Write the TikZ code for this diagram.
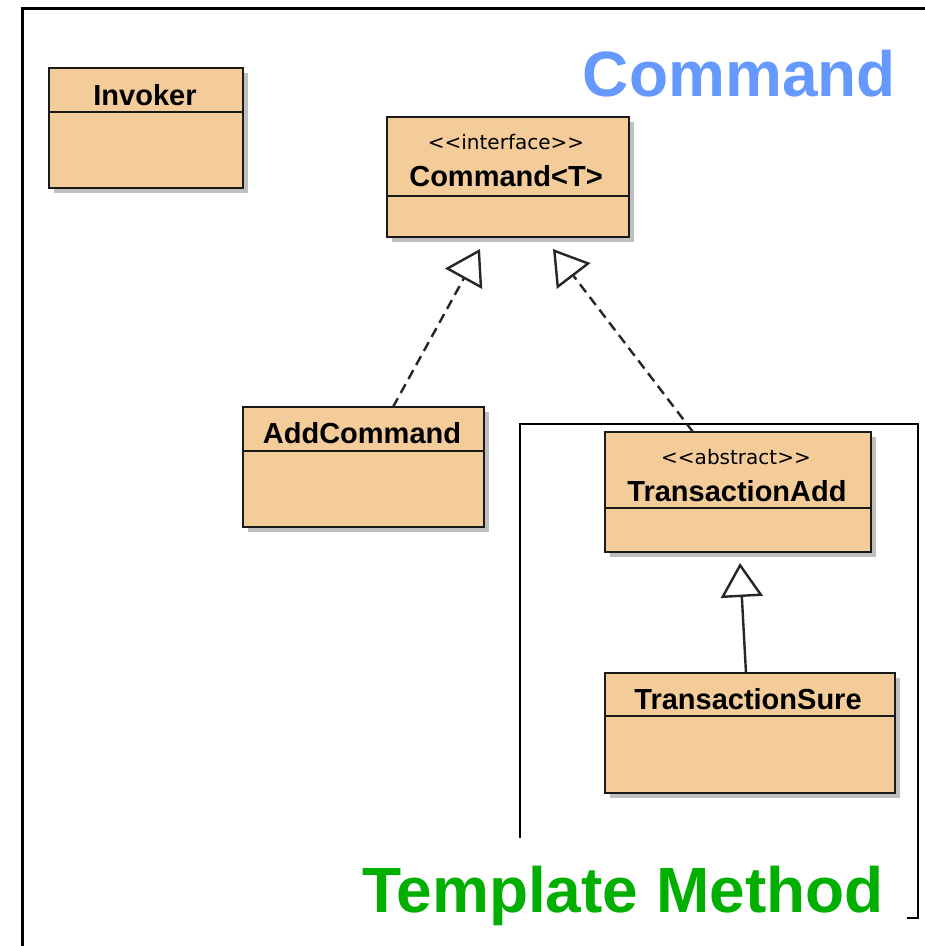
\documentclass[tikz,border=0pt]{standalone}
\usepackage{fontspec}
\setmainfont{Liberation Sans}
\newfontfamily\stfont{DejaVu Sans}
\usetikzlibrary{arrows.meta,shadows}
\definecolor{boxfill}{RGB}{244,204,154}
\definecolor{cmdblue}{RGB}{102,153,255}
\definecolor{tmgreen}{RGB}{0,175,0}
\tikzset{
  cls/.style={draw=black!90, line width=2.6pt, fill=boxfill, rectangle, inner sep=0pt, outer sep=0pt,
    drop shadow={shadow xshift=5pt, shadow yshift=-5pt, fill=black, opacity=0.25}},
  cname/.style={anchor=base, font=\fontsize{29}{31}\selectfont\bfseries, inner sep=0pt},
  stereo/.style={anchor=base, font=\stfont\fontsize{20}{22}\selectfont, inner sep=0pt},
  divider/.style={line width=2.4pt, draw=black!90},
  realize/.style={line width=2.4pt, draw=black!85, dash pattern=on 10pt off 6pt,
    -{Triangle[open, length=34pt, width=42pt, line width=2.4pt]}},
  generalize/.style={line width=2.4pt, draw=black!85,
    -{Triangle[open, length=34pt, width=42pt, line width=2.4pt]}},
  frameline/.style={line width=3pt, draw=black},
  bigtitle/.style={font=\fontsize{64}{70}\selectfont\bfseries, inner sep=0pt},
}
\begin{document}
\begin{tikzpicture}[x=1pt,y=-1pt]
\useasboundingbox (0,0) rectangle (925,946);
\fill[white] (0,0) rectangle (925,946);

% outer frame (top and left)
\draw[frameline] (22,946) -- (22,8) -- (925,8);
% inner frame (Template Method region)
\draw[line width=2.6pt] (520,838) -- (520,424) -- (918,424) -- (918,918) -- (907,918);

% class boxes
\node[cls, minimum width=194pt, minimum height=120pt] (inv) at (146,128) {};
\node[cls, minimum width=242pt, minimum height=120pt] (cmd) at (508,177) {};
\node[cls, minimum width=241pt, minimum height=120pt] (add) at (363.5,467) {};
\node[cls, minimum width=266pt, minimum height=120pt] (tadd) at (738,492) {};
\node[cls, minimum width=290pt, minimum height=120pt] (tsure) at (750,733) {};

% dividers
\draw[divider] ([yshift=-44pt]inv.north west) -- ([yshift=-44pt]inv.north east);
\draw[divider] ([yshift=-79pt]cmd.north west) -- ([yshift=-79pt]cmd.north east);
\draw[divider] ([yshift=-44pt]add.north west) -- ([yshift=-44pt]add.north east);
\draw[divider] ([yshift=-76pt]tadd.north west) -- ([yshift=-76pt]tadd.north east);
\draw[divider] ([yshift=-43pt]tsure.north west) -- ([yshift=-43pt]tsure.north east);

% texts
\node[cname] (tinv) at (145,105) {Invoker};
\node[stereo] (scmd) at (506,149) {<<interface>>};
\node[cname] (tcmd) at (506,186) {Command<T>};
\node[cname] (tadd0) at (362,443) {AddCommand};
\node[stereo] (stadd) at (736,464) {<<abstract>>};
\node[cname] (ttadd) at (737,501) {TransactionAdd};
\node[cname] (ttsure) at (748,709) {TransactionSure};

% connectors
\draw[realize] ([xshift=150pt]add.north west) -- ([xshift=93pt,yshift=-12pt]cmd.south west);
\draw[realize] ([xshift=88pt]tadd.north west) -- ([xshift=166pt,yshift=-12pt]cmd.south west);
\draw[generalize] ([xshift=141pt]tsure.north west) -- ([xshift=135pt,yshift=-11pt]tadd.south west);

% titles
\node[bigtitle, text=cmdblue, anchor=base east] (lcmd) at (896,96) {Command};
\node[bigtitle, text=tmgreen, anchor=base west] (ltm) at (362,912) {Template Method};
\end{tikzpicture}
\end{document}
